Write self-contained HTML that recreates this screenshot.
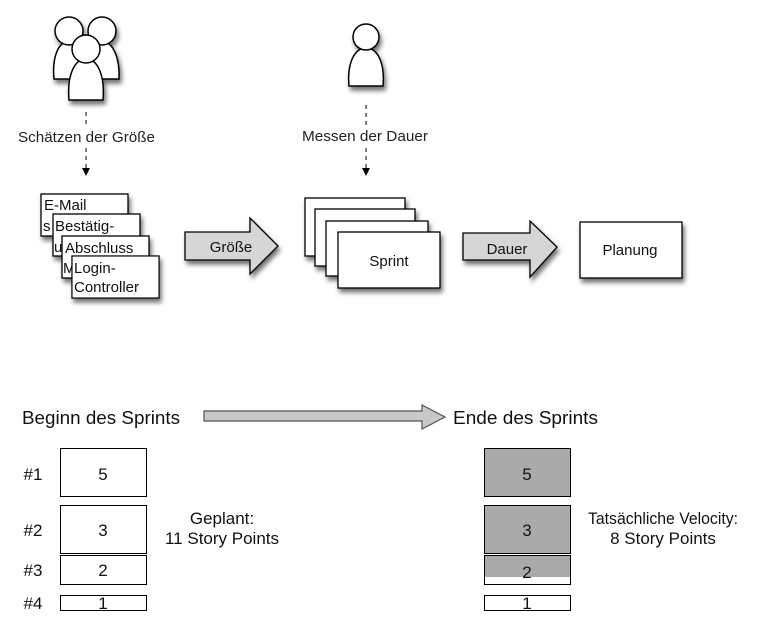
<!DOCTYPE html>
<html><head><meta charset="utf-8"><style>
body{margin:0;background:#fff;}
svg{display:block;font-family:"Liberation Sans",sans-serif;}
</style></head><body>
<svg width="782" height="627" viewBox="0 0 782 627" xmlns="http://www.w3.org/2000/svg">
<defs>
<filter id="sh" x="-20%" y="-20%" width="150%" height="160%"><feDropShadow dx="2" dy="4" stdDeviation="2.5" flood-color="#000" flood-opacity="0.55"/></filter>
<marker id="ah" markerWidth="8" markerHeight="8" refX="4" refY="4" orient="auto"><path d="M0,0 L8,4 L0,8 Z" fill="#000"/></marker>
</defs>
<g stroke="#000" stroke-width="1.5" fill="#fff" filter="url(#sh)">
<path d="M54,79 C52,58 58,42 68,42 C78,42 85,58 84,79 Z"/>
<circle cx="69" cy="31" r="14"/>
<path d="M88,79 C86,58 93,42 103,42 C113,42 120,58 119,79 Z"/>
<circle cx="102" cy="31" r="14"/>
<path d="M69,100 C67,76 74,59 86,59 C98,59 105,76 103,100 Z"/>
<circle cx="86" cy="49" r="14"/>
<path d="M349,86 C347,64 354,48 366,48 C378,48 385,64 383,86 Z"/>
<circle cx="366" cy="37" r="13"/>
</g>
<g stroke="#000" stroke-width="1" stroke-dasharray="4,4" fill="none">
<line x1="86" y1="112" x2="86" y2="126"/><line x1="86" y1="148" x2="86" y2="172" marker-end="url(#ah)"/>
<line x1="366" y1="105" x2="366" y2="126"/><line x1="366" y1="148" x2="366" y2="172" marker-end="url(#ah)"/>
</g>
<g font-size="15" fill="#222">
<text x="18" y="142" textLength="137" lengthAdjust="spacingAndGlyphs">Schätzen der Größe</text>
<text x="302" y="141" textLength="126" lengthAdjust="spacingAndGlyphs">Messen der Dauer</text>
</g>
<g stroke="#000" stroke-width="1.3" fill="#fff" filter="url(#sh)">
<rect x="41" y="194" width="87" height="42"/>
<rect x="53" y="214" width="87" height="42"/>
<rect x="62" y="236" width="87" height="42"/>
<rect x="72" y="256" width="87" height="42"/>
</g>
<g font-size="15" fill="#111">
<text x="44" y="210">E-Mail</text><text x="43" y="231">s</text>
<text x="55" y="231">Bestätig-</text><text x="54" y="252">u</text>
<text x="65" y="253">Abschluss</text><text x="63" y="273">M</text>
<rect x="72.7" y="256.7" width="85.6" height="40.6" fill="#fff"/>
<text x="74" y="273">Login-</text><text x="74" y="292">Controller</text>
</g>
<g stroke="#000" stroke-width="1.3" fill="#d6d6d6" filter="url(#sh)">
<path d="M185,232 H250 V218 L278,246 L250,274 V260 H185 Z"/>
<path d="M463,233 H530 V221 L557,247 L530,277 V260 H463 Z"/>
</g>
<g stroke="#000" stroke-width="1.3" fill="#fff" filter="url(#sh)">
<rect x="305" y="198" width="100" height="58"/>
<rect x="315" y="209" width="100" height="57"/>
<rect x="326" y="221" width="102" height="55"/>
<rect x="338" y="232" width="102" height="56"/>
<rect x="580" y="222" width="102" height="56"/>
</g>
<g font-size="15" fill="#111" text-anchor="middle">
<text x="231" y="252">Größe</text>
<text x="507" y="254">Dauer</text>
<text x="389" y="266">Sprint</text>
<text x="630" y="255">Planung</text>
</g>
<path d="M204,411 H422 V405 L445,417 L422,429 V421 H204 Z" fill="#c8c8c8" stroke="#555" stroke-width="1.2"/>
<g font-size="18" fill="#111">
<text x="22" y="424" textLength="158" lengthAdjust="spacingAndGlyphs">Beginn des Sprints</text>
<text x="453" y="424" textLength="145" lengthAdjust="spacingAndGlyphs">Ende des Sprints</text>
</g>
<g stroke="#000" stroke-width="1" fill="#fff">
<rect x="60.5" y="448.5" width="86" height="48"/>
<rect x="60.5" y="505.5" width="86" height="48"/>
<rect x="60.5" y="555.5" width="86" height="29"/>
<rect x="60.5" y="595.5" width="86" height="15"/>
<rect x="484.5" y="448.5" width="86" height="48" fill="#aaa"/>
<rect x="484.5" y="505.5" width="86" height="48" fill="#aaa"/>
<rect x="484.5" y="555.5" width="86" height="29"/>
<rect x="484.5" y="595.5" width="86" height="15"/>
</g>
<rect x="485" y="556" width="85" height="21" fill="#aaa"/>
<g font-size="17" fill="#111" text-anchor="middle">
<text x="33" y="480">#1</text><text x="33" y="536">#2</text><text x="33" y="576">#3</text><text x="33" y="609">#4</text>
<text x="103" y="480">5</text><text x="103" y="536">3</text><text x="103" y="576">2</text><text x="103" y="609">1</text>
<text x="527" y="480">5</text><text x="527" y="536">3</text><text x="527" y="578">2</text><text x="527" y="609">1</text>
<text x="222" y="524">Geplant:</text><text x="222" y="544">11 Story Points</text>
<text x="663" y="524" textLength="150" lengthAdjust="spacingAndGlyphs">Tatsächliche Velocity:</text><text x="663" y="544">8 Story Points</text>
</g>
</svg>
</body></html>
